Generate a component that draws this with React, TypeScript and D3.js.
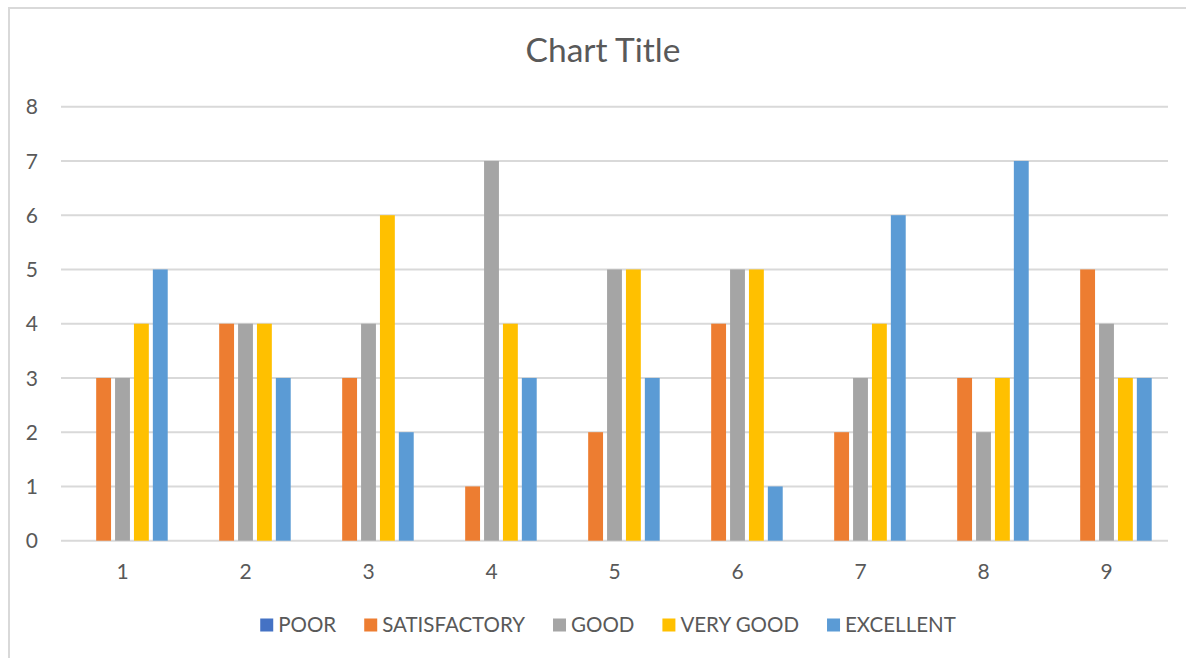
import { useEffect, useRef } from "react";
import * as d3 from "d3";

// Chart data
const categories = ["1", "2", "3", "4", "5", "6", "7", "8", "9"];
const seriesNames = ["POOR", "SATISFACTORY", "GOOD", "VERY GOOD", "EXCELLENT"];
const seriesColors = ["#4472C4", "#ED7D31", "#A5A5A5", "#FFC000", "#5B9BD5"];

const poor = [0, 0, 0, 0, 0, 0, 0, 0, 0];
const satisfactory = [3, 4, 3, 1, 2, 4, 2, 3, 5];
const good = [3, 4, 4, 7, 5, 5, 3, 2, 4];
const veryGood = [4, 4, 6, 4, 5, 5, 4, 3, 3];
const excellent = [5, 3, 2, 3, 3, 1, 6, 7, 3];

const yTicks = [0, 1, 2, 3, 4, 5, 6, 7, 8];

const App = () => {
  const ref = useRef<SVGSVGElement | null>(null);

  useEffect(() => {
    if (!ref.current) return;
    const svg = d3.select(ref.current);
    svg.selectAll("*").remove();

    const width = 1186;
    const font = "Lato, 'Open Sans', sans-serif";
    const textColor = "#595959";
    const gridColor = "#D9D9D9";

    const values = [poor, satisfactory, good, veryGood, excellent];
    const rows = categories.map((c, i) => ({
      cat: c,
      vals: values.map((s) => s[i]),
    }));

    // chart border (runs off the right and bottom edges)
    svg
      .append("rect")
      .attr("x", 9)
      .attr("y", 8)
      .attr("width", width + 20)
      .attr("height", 700)
      .attr("fill", "#fff")
      .attr("stroke", gridColor)
      .attr("stroke-width", 2);

    const plot = { left: 61, right: 1168, top: 106.7, bottom: 540.7 };

    const x0 = d3
      .scaleBand<string>()
      .domain(categories)
      .range([plot.left, plot.right])
      .padding(0);

    const x1 = d3
      .scaleBand<number>()
      .domain(d3.range(seriesNames.length))
      .range([0, x0.bandwidth()])
      .paddingInner(0.2126)
      .paddingOuter(0.862);

    const y = d3.scaleLinear().domain([0, 8]).range([plot.bottom, plot.top]);

    // title
    svg
      .append("text")
      .attr("x", 603)
      .attr("y", 62)
      .attr("text-anchor", "middle")
      .style("font-family", font)
      .style("font-size", "33.5px")
      .style("fill", textColor)
      .text("Chart Title");

    // gridlines
    svg
      .append("g")
      .selectAll("line")
      .data(yTicks)
      .enter()
      .append("line")
      .attr("x1", plot.left)
      .attr("x2", plot.right)
      .attr("y1", (d) => y(d))
      .attr("y2", (d) => y(d))
      .attr("stroke", gridColor)
      .attr("stroke-width", 2);

    // y labels
    svg
      .append("g")
      .selectAll("text")
      .data(yTicks)
      .enter()
      .append("text")
      .attr("x", 38)
      .attr("y", (d) => y(d))
      .attr("dy", "0.36em")
      .attr("text-anchor", "end")
      .style("font-family", font)
      .style("font-size", "21px")
      .style("fill", textColor)
      .text((d) => d);

    // bars
    const groups = svg
      .append("g")
      .selectAll("g")
      .data(rows)
      .enter()
      .append("g")
      .attr("transform", (d) => `translate(${x0(d.cat)},0)`);

    groups
      .selectAll("rect")
      .data((d) => d.vals.map((v, i) => ({ v, i })))
      .enter()
      .append("rect")
      .attr("x", (d) => x1(d.i)!)
      .attr("width", x1.bandwidth())
      .attr("y", (d) => y(d.v))
      .attr("height", (d) => y(0) - y(d.v))
      .attr("fill", (d) => seriesColors[d.i]);

    // x labels
    svg
      .append("g")
      .selectAll("text")
      .data(categories)
      .enter()
      .append("text")
      .attr("x", (d) => x0(d)! + x0.bandwidth() / 2)
      .attr("y", 579)
      .attr("text-anchor", "middle")
      .style("font-family", font)
      .style("font-size", "21px")
      .style("fill", textColor)
      .text((d) => d);

    // legend
    const sq = 13;
    const sqGap = 5;
    const itemGap = 28;
    const legend = svg.append("g");
    const items = legend
      .selectAll("g")
      .data(seriesNames)
      .enter()
      .append("g");
    items
      .append("rect")
      .attr("width", sq)
      .attr("height", sq)
      .attr("y", 618.5)
      .attr("fill", (d, i) => seriesColors[i]);
    items
      .append("text")
      .attr("x", sq + sqGap)
      .attr("y", 632)
      .style("font-family", font)
      .style("font-size", "20.5px")
      .style("fill", textColor)
      .text((d) => d);

    const widths: number[] = [];
    items.each(function () {
      const t = d3.select(this).select("text").node() as SVGTextElement;
      widths.push(sq + sqGap + t.getComputedTextLength());
    });
    const total = d3.sum(widths) + itemGap * (widths.length - 1);
    let cx = 608 - total / 2;
    items.attr("transform", (d, i) => {
      const tx = cx;
      cx += widths[i] + itemGap;
      return `translate(${tx},0)`;
    });
  }, []);

  return (
    <svg
      ref={ref}
      width={1186}
      height={658}
      style={{ position: "absolute", left: 0, top: 0, background: "#fff" }}
    />
  );
};

export default App;
